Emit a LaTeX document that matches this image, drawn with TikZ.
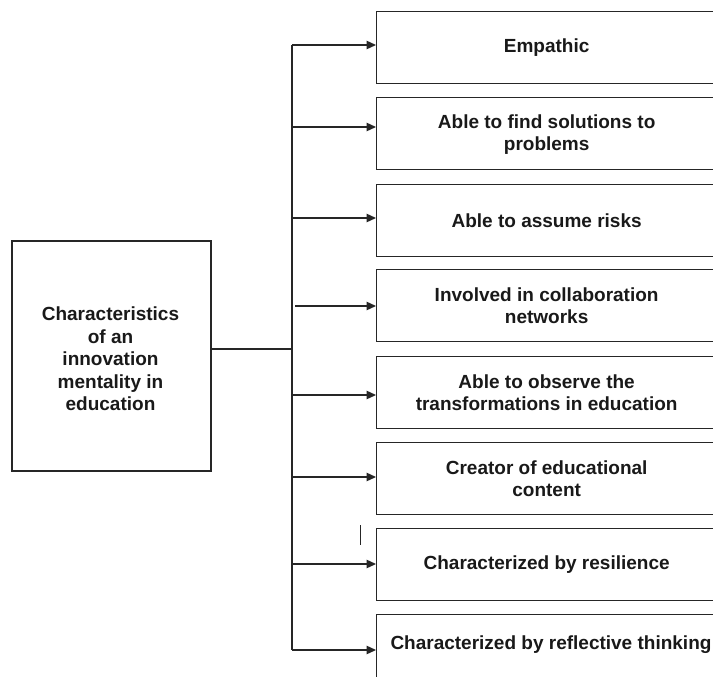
\documentclass[tikz,border=0pt]{standalone}
\usepackage{fontspec}
\setmainfont{Liberation Sans}
\usetikzlibrary{arrows.meta}
\begin{document}
\begin{tikzpicture}[x=1pt,y=-1pt,
  line/.style={line width=1.3pt, draw=black!85},
  txt/.style={font=\bfseries\fontsize{19}{22.5}\selectfont, text=black!90, align=center, inner sep=0pt},
  item/.style={txt, draw=black!85, line width=1.3pt, rectangle, anchor=north west,
    minimum width=340pt, minimum height=72pt},
  root/.style={draw=black!85, line width=1.3pt, rectangle,
    minimum width=199pt, minimum height=230pt, inner sep=0pt},
  link/.style={line, -{Triangle[length=9.5pt,width=8.5pt]}}
]
\useasboundingbox (0,0) rectangle (713,677);
\clip (0,0) rectangle (713,677);

% central concept
\node[root] (main) at (111.5,356) {};
\node[txt] (mainlabel) at (110.5,359) {Characteristics\\of an\\innovation\\mentality in\\education};

% characteristic boxes
\node[item] (b1) at (376,11)  {Empathic};
\node[item] (b2) at (376,97)  {\strut Able to find solutions to\\problems};
\node[item] (b3) at (376,184) {Able to assume risks};
\node[item] (b4) at (376,269) {Involved in collaboration\\networks};
\node[item] (b5) at (376,356) {Able to observe the\\transformations in education};
\node[item] (b6) at (376,442) {Creator of educational\\content};
\node[item] (b7) at (376,528) {Characterized by resilience};
\node[item] (b8) at (376,614) {};
\node[txt] (t8) at (551,645) {Characterized by reflective thinking};

% trunk and branch points
\coordinate (j)  at (292,349);
\coordinate (p1) at (292,45);
\coordinate (p2) at (292,127);
\coordinate (p3) at (292,218);
\coordinate (p4) at (295,306);
\coordinate (p5) at (292,395);
\coordinate (p6) at (292,477);
\coordinate (p7) at (292,564);
\coordinate (p8) at (292,650);

\draw[line] (j -| main.east) -- (j);
\draw[line] (p1) -- (p8);
\foreach \i in {1,...,8} {
  \draw[link] (p\i) -- (p\i -| b\i.west);
}

% small stray stroke
\coordinate (s1) at (360,525);
\coordinate (s2) at (360,545);
\draw[line, line width=1pt] (s1) -- (s2);
\end{tikzpicture}
\end{document}
